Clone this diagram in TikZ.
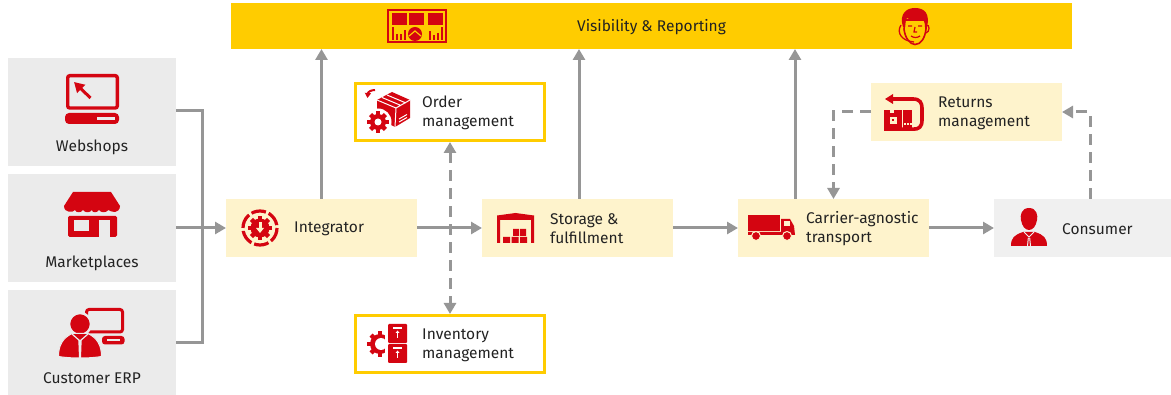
\documentclass[tikz,border=0pt]{standalone}
\usepackage{fontspec}
\setmainfont{Fira Sans}
\usetikzlibrary{positioning,arrows.meta}
\definecolor{markred}{HTML}{D40511}
\definecolor{markyellow}{HTML}{FFCC00}
\definecolor{palebox}{HTML}{FEF3CC}
\definecolor{greybox}{HTML}{EBEBEB}
\definecolor{consumerbox}{HTML}{F0F0F0}
\definecolor{flowgrey}{HTML}{969696}
\definecolor{inkgrey}{HTML}{222222}
\tikzset{
  sourcebox/.style={fill=greybox,minimum width=168pt,minimum height=108pt,inner sep=0pt,outer sep=0pt},
  stagebox/.style={fill=palebox,minimum width=191pt,minimum height=58pt,inner sep=0pt,outer sep=0pt},
  framebox/.style={fill=white,draw=markyellow,line width=2.6pt,minimum width=189.4pt,minimum height=57.4pt,inner sep=0pt,outer sep=1.3pt},
  boxtext/.style={text=inkgrey,font=\fontsize{15.5pt}{19pt}\selectfont,align=left,inner sep=0pt,yshift=-1pt},
  flowline/.style={draw=flowgrey,line width=3pt},
  flowarrow/.style={flowline,-{Triangle[length=11pt,width=12pt]}},
  flowdash/.style={flowarrow,dash pattern=on 11pt off 7pt},
  iconfill/.style={fill=markred,draw=none},
  iconline/.style={draw=markred,fill=none,line width=3pt},
}
\newcommand{\redgear}[3]{
  \fill[iconfill] (#1,#2) circle[radius=#3];
  \foreach \a in {0,45,...,315}
    \fill[iconfill,shift={(#1,#2)},rotate=\a] (-2.2,0) rectangle (2.2,#3+2.6);
}
\begin{document}
\begin{tikzpicture}[x=1pt,y=-1pt]
  \useasboundingbox (0,0) rectangle (1171,395);
  \node[fill=markyellow,minimum width=841pt,minimum height=46pt,inner sep=0pt,outer sep=0pt] (reporting) at (651.5,26) {};
  \node[boxtext] (reportingtext) at (reporting.center) {Visibility \& Reporting};
  \node[sourcebox] (webshops) at (92,112) {};
  \node[sourcebox,below=8pt of webshops] (marketplaces) {};
  \node[sourcebox,minimum height=105pt,below=8pt of marketplaces] (erp) {};
  \node[boxtext,below=81pt of webshops.north] (webshopstext) {Webshops};
  \node[boxtext,below=81pt of marketplaces.north] (marketplacestext) {Marketplaces};
  \node[boxtext,below=81pt of erp.north] (erptext) {Customer ERP};
  \node[stagebox] (integrator) at (321.5,228) {};
  \node[stagebox,right=65pt of integrator] (storage) {};
  \node[stagebox,right=65pt of storage] (carrier) {};
  \node[stagebox,fill=consumerbox,minimum width=177pt,right=65pt of carrier] (consumer) {};
  \node[framebox] (order) at (450,112) {};
  \node[framebox] (inventory) at (450,344) {};
  \node[stagebox] (returns) at (966.5,112) {};
  \node[boxtext,right=68pt of integrator.west] (integratortext) {Integrator};
  \node[boxtext,right=68pt of storage.west] (storagetext) {Storage \&\\fulfillment};
  \node[boxtext,right=68pt of carrier.west] (carriertext) {Carrier-agnostic\\transport};
  \node[boxtext,right=68pt of consumer.west] (consumertext) {Consumer};
  \node[boxtext,right=68pt of order.west] (ordertext) {Order\\management};
  \node[boxtext,right=68pt of inventory.west] (inventorytext) {Inventory\\management};
  \node[boxtext,right=67pt of returns.west] (returnstext) {Returns\\management};
  \coordinate (bus) at (202,342.5);
  \draw[flowline] ([yshift=1pt]webshops.east) -| (bus) -- (erp.east);
  \draw[flowarrow] (marketplaces.east) -- (integrator.west);
  \draw[flowarrow] (integrator.east) -- (storage.west);
  \draw[flowarrow] (storage.east) -- (carrier.west);
  \draw[flowarrow] (carrier.east) -- (consumer.west);
  \draw[flowarrow] (integrator.north) -- (integrator.north |- reporting.south);
  \draw[flowarrow] ([xshift=1.5pt]storage.north) -- ([xshift=1.5pt]storage.north |- reporting.south);
  \draw[flowarrow] ([xshift=-38.5pt]carrier.north) -- ([xshift=-38.5pt]carrier.north |- reporting.south);
  \draw[flowdash,{Triangle[length=11pt,width=12pt]}-{Triangle[length=11pt,width=12pt]}] (order.south) -- (inventory.north);
  \draw[flowdash] (returns.west) -| (carrier.north);
  \draw[flowdash] ([xshift=-81pt]consumer.north east) |- (returns.east);
  % bar icons
  \draw[draw=markred,line width=2pt] (388,10) rectangle (446,42);
  \foreach \x in {392,409,428}
    \fill[iconfill] (\x,13) rectangle +(15,12);
  \foreach \x/\h in {392/13,396/6,400/6,404/10,429/9,433/5,437/7,441/13}
    \fill[iconfill] (\x,40) rectangle +(2,-\h);
  \fill[iconfill] (415,34) circle[radius=7];
  \draw[markyellow,line width=1.2pt] (409,36) -- (415,31) -- (421,36);
  \draw[draw=markred,line width=1.6pt,fill=markyellow] (905,20) -- (904,29) .. controls (905,38) and (910,44.5) .. (915,44.5) .. controls (921,44.5) and (925,38) .. (926,29) -- (926,20) -- cycle;
  \fill[iconfill] (903,27) .. controls (899,14) and (906,8) .. (915,8) .. controls (925,8) and (930,14) .. (927,27) -- (925,27) .. controls (925,21) and (923,19) .. (921,19) .. controls (915,21) and (910,20) .. (907,18) .. controls (905,20) and (905,24) .. (905,27) -- cycle;
  \draw[draw=markred,line width=1.3pt] (926,25) .. controls (930,24) and (930,32) .. (926,33);
  \draw[draw=markred,line width=1.3pt] (901,25) .. controls (896,33) and (902,41) .. (914,42);
  \draw[draw=markred,line width=1.2pt] (908,26) -- (912,26) (918,26) -- (922,26) (915,27) -- (914,32) -- (917,32) (911,36) .. controls (914,38) and (917,38) .. (920,36);
  % source icons
  \draw[iconline,line width=3.4pt,rounded corners=2pt] (67.7,75.7) rectangle (117.3,108);
  \draw[iconline,line width=3pt,-{Triangle[length=10pt,width=11pt]}] (90.5,98) -- (74,82);
  \fill[iconfill,rounded corners=4pt] (65,113) rectangle (119,124);
  \fill[greybox] (97,117.3) rectangle (115,120.3);
  \fill[iconfill] (73,192) -- (111,192) -- (120,206) .. controls (120,210) and (117,212) .. (115,212) .. controls (112,212) and (110,211) .. (108.5,210) .. controls (106,213) and (101,213) .. (99,210) .. controls (97,213) and (92,213) .. (92,210) .. controls (90,213) and (85,213) .. (83,210) .. controls (81,213) and (76,213) .. (75,210) .. controls (73,213) and (64,213) .. (64,206) -- cycle;
  \fill[iconfill,rounded corners=1.5pt] (68,216) rectangle (117,237);
  \fill[greybox] (74,220) rectangle (89,231);
  \fill[greybox] (99,220) rectangle (110,237);
  \draw[iconline,rounded corners=2.5pt] (86.5,309.5) rectangle (122.5,332);
  \fill[iconfill,rounded corners=3pt] (102,336) rectangle (124.5,344.5);
  \fill[greybox] (107,339) rectangle (120,341.5);
  \fill[iconfill,draw=greybox,line width=2.4pt] (80,324) circle[radius=11];
  \fill[iconfill,draw=greybox,line width=1pt] (58.5,356.5) .. controls (58.5,345) and (63,338) .. (72,333.5) -- (88,333.5) .. controls (97,338) and (101.5,345) .. (101.5,356.5) .. controls (90,358.5) and (70,358.5) .. (58.5,356.5) -- cycle;
  \draw[greybox,line width=1.2pt] (72,334) -- (80,341) -- (88,334);
  \fill[greybox] (78.3,340) -- (81.7,340) -- (81,358) -- (79,358) -- cycle;
  % stage icons
  \redgear{260}{228}{9.5}
  \fill[palebox] (258.5,222) rectangle (261.5,229);
  \fill[palebox] (256,228) -- (264,228) -- (260,233) -- cycle;
  \draw[iconline,line width=3.2pt,dash pattern=on 14.8pt off 3pt] (260,228) circle[radius=17];
  \fill[iconfill] (513,229) rectangle +(6,7) (520,229) rectangle +(6,7);
  \fill[iconfill] (503,237) rectangle +(7,6) (511.5,237) rectangle +(7,6) (520,237) rectangle +(7,6);
  \fill[iconfill] (497,215.5) -- (515.5,213) -- (534,215.5) -- (534,243) -- (531,243) -- (531,220) -- (500,220) -- (500,243) -- (497,243) -- cycle;
  \fill[iconfill] (748,215) rectangle (780,231);
  \fill[iconfill] (781,219) -- (790,219) -- (794,226) -- (795,235) -- (748,235) -- (748,232) -- (781,232) -- cycle;
  \fill[palebox] (784,221) rectangle (790,226);
  \fill[iconfill,draw=palebox,line width=1pt] (756,236) circle[radius=4.5] (787,236) circle[radius=4.5];
  \fill[iconfill] (1029,208) .. controls (1021,208) and (1020,216) .. (1021,220) .. controls (1022,226) and (1025,230) .. (1029,230) .. controls (1033,230) and (1036,226) .. (1037,220) .. controls (1038,216) and (1037,208) .. (1029,208) -- cycle;
  \fill[iconfill] (1011,246) .. controls (1011,238) and (1014,235) .. (1023,232) -- (1035,232) .. controls (1044,235) and (1047,238) .. (1047,246) -- cycle;
  \draw[consumerbox,line width=1pt] (1024,232) -- (1029,237) -- (1034,232) (1027.5,246) -- (1028.3,238) (1030.5,246) -- (1029.7,238);
  % order and inventory icons
  \fill[iconfill] (377,100) -- (392,92) -- (410,100) -- (410,118) -- (395,127) -- (377,118) -- cycle;
  \draw[white,line width=1pt] (377,100) -- (396,108) -- (410,100) (396,108) -- (395,127) (382,97.5) -- (401,105.5) (387,95) -- (406,103) (399,122) -- (407,117.5) (399,119) -- (407,114.5);
  \fill[white] (378,122) circle[radius=13.5];
  \redgear{378}{122}{8}
  \fill[white] (378,122) circle[radius=3.5];
  \draw[iconline,line width=2pt,-{Triangle[length=5pt,width=6pt]}] (375,90) .. controls (371,90) and (368,92) .. (367.5,98);
  \redgear{380}{344}{10}
  \fill[white] (381,344) circle[radius=6];
  \fill[white] (385,328) rectangle (410,366);
  \foreach \y in {324,344} {
    \fill[iconfill,rounded corners=1pt] (388,\y) rectangle +(19,19);
    \fill[white] (393,\y+3.5) rectangle +(9,1.6);
    \draw[white,line width=1pt] (397.5,\y+14) -- (397.5,\y+8);
    \fill[white] (395.5,\y+9) -- (399.5,\y+9) -- (397.5,\y+6.5) -- cycle;
  }
  % returns icon
  \draw[iconline,line width=3.6pt] (890,99) -- (913,99) .. controls (920,99) and (922,103) .. (922,108) -- (922,120) .. controls (922,127) and (919,129.2) .. (913,129.2) -- (884,129.2);
  \fill[iconfill] (885,99) -- (893,94) -- (893,104) -- cycle;
  \fill[iconfill] (884,110) rectangle (901.5,128);
  \fill[iconfill] (903,110) rectangle (912,128);
  \fill[palebox] (890,109) rectangle (894,113);
  \fill[palebox] (890,117) rectangle (897,124);
  \fill[iconfill] (891.5,119) rectangle (894,121);
  \foreach \x in {904,907,910}
    \fill[palebox] (\x,123.5) rectangle +(1.5,1.5);
\end{tikzpicture}
\end{document}
